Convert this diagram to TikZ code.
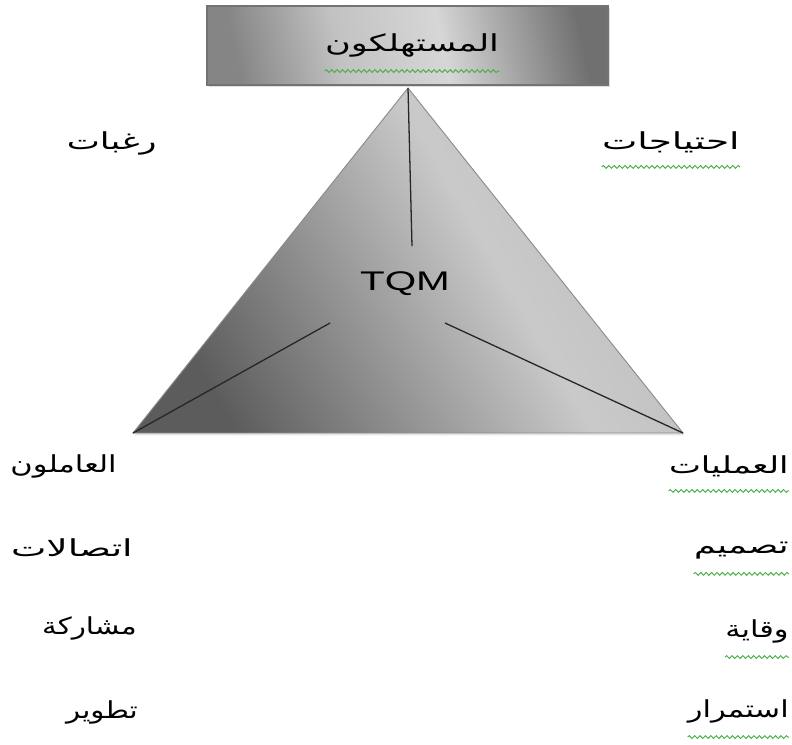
\documentclass[tikz,border=0pt]{standalone}
\usepackage{fontspec}
\setmainfont{Liberation Sans}
\newfontfamily\arabicfont[Script=Arabic]{DejaVu Sans}
\TeXXeTstate=1
\usepackage{tikz}
\usetikzlibrary{positioning,shadows,decorations.pathmorphing}
\definecolor{spellgreen}{RGB}{70,175,70}
\definecolor{rimgray}{RGB}{115,115,115}
\newcommand{\artext}[1]{{\arabicfont\beginR #1\endR}}
\pgfdeclarehorizontalshading{boxshade}{100bp}{color(0bp)=(black!48); color(25bp)=(black!48);
    color(40bp)=(black!24); color(55bp)=(black!16); color(75bp)=(black!56); color(100bp)=(black!56)}
\pgfdeclarehorizontalshading{triangleshade}{100bp}{color(0bp)=(black!64); color(25bp)=(black!64);
    color(58bp)=(black!21); color(75bp)=(black!26); color(100bp)=(black!26)}

\begin{document}
\begin{tikzpicture}[x=0.03cm, y=-0.03cm,
    word/.style={font=\fontsize{20}{24}\selectfont, inner sep=0pt},
    spell/.style={draw=spellgreen, line width=0.8pt, decorate,
      decoration={snake, amplitude=1.2pt, segment length=4.6pt}},
    spoke/.style={draw=black!85, line width=1.1pt}]
    \useasboundingbox (0,0) rectangle (792,744);

    % consumers box
    \node[draw=rimgray, line width=1.6pt, minimum width=12.03cm, minimum height=2.37cm,
          shading=boxshade, shading angle=12,
          drop shadow={opacity=0.25, shadow xshift=2pt, shadow yshift=-2pt}] (cons) at (407.5,45.5) {};
    \node[word, xscale=1.5] (title) at (412,45) {\artext{المستهلكون}};

    % triangle
    \coordinate (apex) at (408,88);
    \coordinate (bl) at (133,433);
    \coordinate (br) at (683,433);
    \coordinate (hub) at (412,246);
    \coordinate (lhub) at (330,323);
    \coordinate (rhub) at (445,323);
    \path[draw=black!45, line width=0.8pt, shading=triangleshade, shading angle=30,
          drop shadow={opacity=0.2, shadow xshift=1pt, shadow yshift=-2pt}]
        (apex) -- (br) -- (bl) -- cycle;

    \draw[spoke] (apex) -- (hub);
    \draw[spoke] (bl) -- (lhub);
    \draw[spoke] (br) -- (rhub);

    \node[font=\fontsize{23}{27}\selectfont, xscale=1.5] (tqm) at (405,284) {TQM};

    % labels
    \node[word, anchor=east, xscale=1.5] (wish) at (157,143) {\artext{رغبات}};
    \node[word, anchor=east, xscale=1.6] (need) at (740,142) {\artext{احتياجات}};

    \node[word, anchor=east, xscale=1.3] (staff) at (117,466) {\artext{العاملون}};
    \node[word, anchor=east, xscale=1.6] (comm) at (133,548) {\artext{اتصالات}};
    \node[word, anchor=east, xscale=1.25] (share) at (137,628) {\artext{مشاركة}};
    \node[word, anchor=east, xscale=1.25] (grow) at (138,712) {\artext{تطوير}};

    \node[word, anchor=east, xscale=1.45] (proc) at (789,466) {\artext{العمليات}};
    \node[word, anchor=east, xscale=1.5] (design) at (789,551) {\artext{تصميم}};
    \node[word, anchor=east, xscale=1.3] (guard) at (789,631) {\artext{وقاية}};
    \node[word, anchor=east, xscale=1.3] (keep) at (789,711) {\artext{استمرار}};

    % spelling marks
    \foreach \w in {title,need,proc,design,guard,keep}
        \draw[spell] ([yshift=-12pt]\w.south west) -- ([yshift=-12pt]\w.south east);
\end{tikzpicture}
\end{document}
